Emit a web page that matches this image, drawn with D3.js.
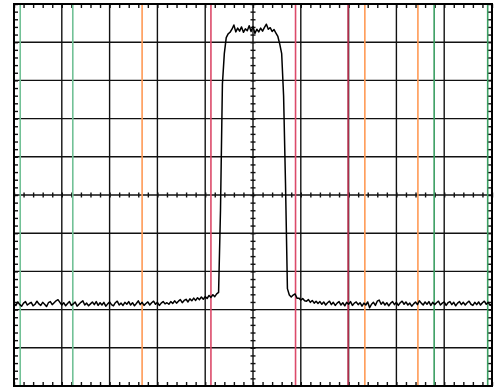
<!DOCTYPE html>
<html lang="en">

<head>
    <meta charset="UTF-8">
    <title>Spectrum</title>
    <style>
        body {
            margin: 0;
            background: #fff;
        }
    </style>
</head>

<body>
    <svg width="498" height="387"></svg>
    <script src="https://d3js.org/d3.v7.min.js"></script>
    <script>

        // screen is 10 x 10 divisions, trace sampled every 0.04 div
        let traceStep = 0.04;
        let traceY = [
            2.17, 2.11, 2.20, 2.13, 2.09, 2.17, 2.21, 2.12, 2.16, 2.19,
            2.10, 2.14, 2.22, 2.15, 2.11, 2.19, 2.14, 2.08, 2.18, 2.21,
            2.13, 2.18, 2.23, 2.26, 2.19, 2.12, 2.18, 2.10, 2.16, 2.21,
            2.11, 2.15, 2.20, 2.09, 2.14, 2.19, 2.23, 2.12, 2.17, 2.10,
            2.15, 2.20, 2.13, 2.21, 2.11, 2.18, 2.12, 2.19, 2.09, 2.15,
            2.20, 2.13, 2.10, 2.18, 2.22, 2.12, 2.17, 2.11, 2.19, 2.14,
            2.21, 2.12, 2.18, 2.10, 2.16, 2.23, 2.13, 2.19, 2.11, 2.16,
            2.20, 2.12, 2.18, 2.22, 2.14, 2.19, 2.11, 2.17, 2.21, 2.15,
            2.18, 2.14, 2.21, 2.16, 2.23, 2.17, 2.22, 2.26, 2.18, 2.24,
            2.27, 2.20, 2.28, 2.23, 2.30, 2.24, 2.31, 2.26, 2.33, 2.27,
            2.34, 2.29, 2.37, 2.32, 2.39, 2.34, 2.41,
            2.45, 4.60, 7.90, 8.70, 9.12, 9.22,
            9.26, 9.34, 9.45, 9.27, 9.37, 9.29, 9.40, 9.26, 9.35, 9.30,
            9.43, 9.28, 9.41, 9.23, 9.34, 9.27, 9.37, 9.29, 9.39, 9.47,
            9.34, 9.38, 9.28, 9.33,
            9.24, 9.15, 8.95, 8.70, 7.60, 5.30, 2.55, 2.38, 2.33, 2.38,
            2.41, 2.30, 2.30, 2.25, 2.29, 2.23, 2.22, 2.26, 2.19, 2.24,
            2.17, 2.22, 2.16, 2.21,
            2.14, 2.20, 2.12, 2.18, 2.22, 2.13, 2.19, 2.11, 2.17, 2.21,
            2.12, 2.18, 2.10, 2.19, 2.14, 2.21, 2.11, 2.17, 2.20, 2.13,
            2.18, 2.09, 2.17, 2.12, 2.20, 2.05, 2.14, 2.19, 2.11, 2.22,
            2.25, 2.14, 2.20, 2.12, 2.18, 2.10, 2.17, 2.21, 2.13, 2.19,
            2.11, 2.18, 2.22, 2.14, 2.20, 2.12, 2.17, 2.09, 2.15, 2.20,
            2.13, 2.23, 2.17, 2.12, 2.20, 2.14, 2.21, 2.11, 2.19, 2.13,
            2.18, 2.22, 2.12, 2.17, 2.20, 2.11, 2.18, 2.21, 2.13, 2.19,
            2.10, 2.17, 2.21, 2.13, 2.19, 2.12, 2.18, 2.22, 2.14, 2.11,
            2.19, 2.13, 2.20, 2.12, 2.18, 2.22, 2.14, 2.19, 2.11, 2.16
        ];

        // marker lines, in divisions
        let markerX = [0.13, 1.23, 2.68, 4.12, 5.89, 6.99, 7.34, 8.45, 8.79, 9.91];
        let markerColor = ["#72c196", "#72c196", "#ff9a55", "#dc4a6a", "#dc4a6a",
            "#b8304f", "#ff9a55", "#ff9a55", "#3b9e62", "#3b9e62"];

        let svg = d3.select("svg");

        let x = d3.scaleLinear().domain([0, 10]).range([14, 492]),
            y = d3.scaleLinear().domain([0, 10]).range([386, 4]);

        let minor = d3.range(0, 10.001, 0.2);

        // grid
        svg.append("g")
            .selectAll("line.v")
            .data(d3.range(1, 10))
            .join("line")
            .attr("x1", d => x(d)).attr("x2", d => x(d))
            .attr("y1", y(10)).attr("y2", y(0))
            .attr("stroke", "#111").attr("stroke-width", 1.4);

        svg.append("g")
            .selectAll("line.h")
            .data(d3.range(1, 10))
            .join("line")
            .attr("x1", x(0)).attr("x2", x(10))
            .attr("y1", d => y(d)).attr("y2", d => y(d))
            .attr("stroke", "#111").attr("stroke-width", 1.4);

        // border ticks
        function ticksOnly(axis, size) {
            return axis.tickValues(minor).tickSizeInner(size).tickSizeOuter(0).tickFormat("");
        }
        let axes = [
            [ticksOnly(d3.axisBottom(x), 4), 0, y(10)],
            [ticksOnly(d3.axisTop(x), 4), 0, y(0)],
            [ticksOnly(d3.axisRight(y), 4), x(0), 0],
            [ticksOnly(d3.axisLeft(y), 4), x(10), 0],
            [ticksOnly(d3.axisBottom(x), 2.5), 0, y(5)],
            [ticksOnly(d3.axisTop(x), 2.5), 0, y(5)],
            [ticksOnly(d3.axisRight(y), 2.5), x(5), 0],
            [ticksOnly(d3.axisLeft(y), 2.5), x(5), 0]
        ];
        axes.forEach(a => {
            let g = svg.append("g")
                .attr("transform", `translate(${a[1]},${a[2]})`)
                .call(a[0]);
            g.select(".domain").remove();
            g.selectAll("line").attr("stroke", "#111").attr("stroke-width", 1.4);
        });

        // markers
        svg.append("g")
            .selectAll("line")
            .data(markerX)
            .join("line")
            .attr("x1", d => x(d)).attr("x2", d => x(d))
            .attr("y1", y(10)).attr("y2", y(0))
            .attr("stroke", (d, i) => markerColor[i])
            .attr("stroke-width", 1.6);

        // trace
        let line = d3.line()
            .x((d, i) => x(i * traceStep))
            .y(d => y(d));

        svg.append("path")
            .datum(traceY)
            .attr("d", line)
            .attr("fill", "none")
            .attr("stroke", "#000")
            .attr("stroke-width", 1.5)
            .attr("stroke-linejoin", "round");

        // frame
        svg.append("rect")
            .attr("x", x(0)).attr("y", y(10))
            .attr("width", x(10) - x(0)).attr("height", y(0) - y(10))
            .attr("fill", "none")
            .attr("stroke", "#000")
            .attr("stroke-width", 2);

    </script>
</body>

</html>
